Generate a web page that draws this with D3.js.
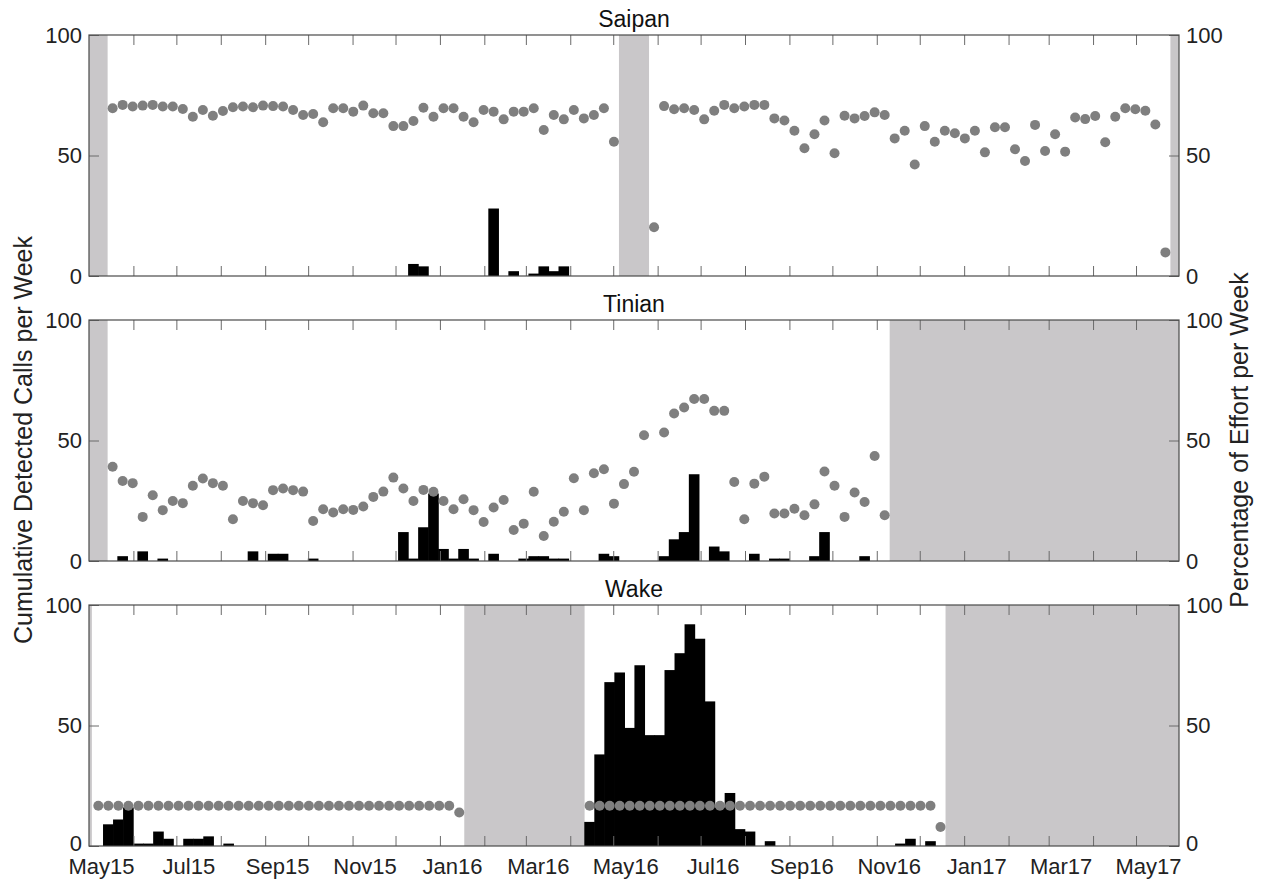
<!DOCTYPE html>
<html><head><meta charset="utf-8">
<script src="https://cdn.jsdelivr.net/npm/d3@7"></script>
<style>
body{margin:0;background:#fff;}
svg text{font-family:"Liberation Sans",Arial,Helvetica,sans-serif;}
</style>
</head><body>
<svg id="chart" width="1264" height="882"></svg>
<script>
// ---------------- DATA ----------------
const siteNames = ["Saipan", "Tinian", "Wake"];
const domainDates = ["2015-05-01", "2017-05-31"];
const yTickValues = [0, 50, 100];

// weekly series: first week start date, calls per week, % effort per week (null = no recording)
const saipanStart = "2015-05-14";
const saipanCalls = [
  0,0,0,0,0,0,0,0,0,0,
  0,0,0,0,0,0,0,0,0,0,
  0,0,0,0,0,0,0,0,0,0,
  5,4,0,0,0,0,0,0,28,0,
  2,0,1,4,2,4,0,0,0,0,
  0,null,null,null,0,0,0,0,0,0,
  0,0,0,0,0,0,0,0,0,0,
  0,0,0,0,0,0,0,0,0,0,
  0,0,0,0,0,0,0,0,0,0,
  0,0,0,0,0,0,0,0,0,0,
  0,0,0,0,0,0
];
const saipanEffort = [
  69.6,71.0,70.3,70.7,71.0,70.3,70.3,69.3,66.1,68.9,
  66.5,68.5,70.0,70.3,70.0,70.7,70.5,70.3,68.9,66.8,
  67.2,63.8,69.6,69.6,68.2,70.7,67.5,67.5,62.2,62.2,
  64.3,69.8,66.1,69.6,69.6,66.1,63.8,68.9,68.2,65.0,
  68.2,68.2,69.6,60.6,66.8,65.0,68.9,65.4,66.8,69.6,
  55.7,null,null,null,20.2,70.5,69.2,69.6,68.9,65.0,
  68.6,71.0,69.6,70.3,71.0,71.0,65.4,64.5,60.3,53.0,
  58.8,64.5,50.9,66.5,65.4,66.4,67.9,66.8,57.1,60.3,
  46.3,62.2,55.7,60.3,59.2,57.1,60.3,51.3,61.7,61.7,
  52.6,47.7,62.7,51.9,58.8,51.6,65.8,65.1,66.4,55.5,
  66.1,69.6,69.2,68.6,62.9,9.8
];
const saipanGaps = [["2015-05-01","2015-05-14"],["2016-05-05","2016-05-26"],["2017-05-25","2017-05-31"]];

const tinianStart = "2015-05-14";
const tinianCalls = [
  0,2,0,4,0,1,0,0,0,0,
  0,0,0,0,4,0,3,3,0,0,
  1,0,0,0,0,0,0,0,0,12,
  1,14,28,5,1,5,1,0,3,0,
  0,1,2,2,1,1,0,0,0,3,
  2,0,0,0,null,2,9,12,36,0,
  6,4,0,0,3,0,1,1,0,0,
  2,12,0,0,0,2,0,0
];
const tinianEffort = [
  39.1,33.2,32.3,18.3,27.3,21.1,24.9,24.0,31.2,34.2,
  32.3,31.2,17.3,24.9,24.0,23.1,29.4,30.1,29.4,28.8,
  16.6,21.5,20.1,21.5,21.2,22.6,26.6,28.8,34.6,30.1,
  24.9,29.5,28.7,24.9,21.5,25.6,21.1,16.2,22.2,25.3,
  12.9,15.5,28.7,10.4,16.3,20.4,34.3,21.1,36.4,38.1,
  23.8,31.9,37.0,52.2,null,53.3,61.2,63.7,67.2,67.2,
  62.3,62.3,32.8,17.3,32.1,35.0,19.7,19.7,21.7,19.0,
  23.5,37.1,31.2,18.3,28.4,24.5,43.6,19.0
];
const tinianGaps = [["2015-05-01","2015-05-14"],["2016-11-10","2017-05-31"]];

const wakeStart = "2015-05-04";
const wakeCalls = [
  0,9,11,16,1,1,6,3,0,3,
  3,4,0,1,0,0,0,0,0,0,
  0,0,0,0,0,0,0,0,0,0,
  0,0,0,0,0,0,0,null,null,null,
  null,null,null,null,null,null,null,null,null,10,
  38,68,72,49,75,46,46,73,80,92,
  86,60,16,22,7,6,0,2,0,0,
  0,0,0,0,0,0,0,0,0,0,
  1,3,0,2,0
];
const wakeEffort = [
  16.7,16.7,16.7,16.7,16.7,16.7,16.7,16.7,16.7,16.7,
  16.7,16.7,16.7,16.7,16.7,16.7,16.7,16.7,16.7,16.7,
  16.7,16.7,16.7,16.7,16.7,16.7,16.7,16.7,16.7,16.7,
  16.7,16.7,16.7,16.7,16.7,16.7,13.9,null,null,null,
  null,null,null,null,null,null,null,null,null,16.7,
  16.7,16.7,16.7,16.7,16.7,16.7,16.7,16.7,16.7,16.7,
  16.7,16.7,16.7,16.7,16.7,16.7,16.7,16.7,16.7,16.7,
  16.7,16.7,16.7,16.7,16.7,16.7,16.7,16.7,16.7,16.7,
  16.7,16.7,16.7,16.7,7.9
];
const wakeGaps = [["2015-05-01","2015-05-03"],["2016-01-18","2016-04-11"],["2016-12-19","2017-05-31"]];

const leftTitle = "Cumulative Detected Calls per Week";
const rightTitle = "Percentage of Effort per Week";

// ---------------- DRAW ----------------
const parse = d3.utcParse("%Y-%m-%d");
const panels = [
  {name: siteNames[0], start: saipanStart, calls: saipanCalls, effort: saipanEffort, gaps: saipanGaps},
  {name: siteNames[1], start: tinianStart, calls: tinianCalls, effort: tinianEffort, gaps: tinianGaps},
  {name: siteNames[2], start: wakeStart, calls: wakeCalls, effort: wakeEffort, gaps: wakeGaps}
];

const svg = d3.select("#chart");
svg.append("rect").attr("width",1264).attr("height",882).attr("fill","#fff");

const X0 = 89, X1 = 1179;
const x = d3.scaleUtc().domain(domainDates.map(parse)).range([X0, X1]);
const panelTops = [35, 320, 605];
const PH = 241;
const monthTicks = d3.utcMonth.range(parse("2015-06-01"), parse("2017-06-01"));
const labelMonths = d3.utcMonth.every(2).range(parse("2015-05-01"), parse("2017-06-01"));
const frameColor = "#4a4a4a", tickColor = "#6a6a6a", textColor = "#222";
const tickFont = 22, titleFont = 23, axisTitleFont = 25;

panels.forEach((p, i) => {
  const top = panelTops[i];
  const y = d3.scaleLinear().domain([0, 100]).range([top + PH, top]);
  const g = svg.append("g");

  // no-effort shading
  g.selectAll("rect.gap").data(p.gaps).join("rect").attr("class","gap")
    .attr("x", d => x(parse(d[0])))
    .attr("width", d => x(parse(d[1])) - x(parse(d[0])))
    .attr("y", top).attr("height", PH)
    .attr("fill", "#c9c7c9");

  const start = parse(p.start);
  const weeks = p.calls.map((v, k) => ({
    v, e: p.effort[k],
    t0: d3.utcDay.offset(start, 7 * k),
    t1: d3.utcDay.offset(start, 7 * k + 7)
  }));

  // bars (slight overlap so neighbouring bars have no seams)
  g.selectAll("rect.bar").data(weeks.filter(d => d.v != null && d.v > 0)).join("rect").attr("class","bar")
    .attr("x", d => x(d.t0) - 0.3)
    .attr("width", d => x(d.t1) - x(d.t0) + 0.6)
    .attr("y", d => y(d.v))
    .attr("height", d => y(0) - y(d.v))
    .attr("fill", "#000");

  // effort dots
  g.selectAll("circle").data(weeks.filter(d => d.e != null)).join("circle")
    .attr("cx", d => x(new Date((+d.t0 + +d.t1) / 2)))
    .attr("cy", d => y(d.e))
    .attr("r", 5)
    .attr("fill", "#7f7f7f");

  // month ticks bottom & top (inward)
  const bt = g.append("g").attr("transform", `translate(0,${top + PH})`)
    .call(d3.axisBottom(x).tickValues(monthTicks).tickSizeInner(-10).tickSizeOuter(0).tickFormat(""));
  const tt = g.append("g").attr("transform", `translate(0,${top})`)
    .call(d3.axisTop(x).tickValues(monthTicks).tickSizeInner(-10).tickSizeOuter(0).tickFormat(""));
  [bt, tt].forEach(a => { a.select(".domain").remove(); a.selectAll("line").attr("stroke", tickColor); });

  // y axes
  const la = g.append("g").attr("transform", `translate(${X0},0)`)
    .call(d3.axisLeft(y).tickValues(yTickValues).tickSizeInner(-10).tickSizeOuter(0).tickPadding(7));
  const ra = g.append("g").attr("transform", `translate(${X1},0)`)
    .call(d3.axisRight(y).tickValues(yTickValues).tickSizeInner(-10).tickSizeOuter(0).tickPadding(7));
  [la, ra].forEach(a => {
    a.select(".domain").remove();
    a.selectAll("line").attr("stroke", tickColor);
    a.selectAll("text").attr("font-size", tickFont).attr("fill", textColor)
      .attr("font-family", "Liberation Sans, Arial, sans-serif");
  });
  // lift the bottom "0" of the last panel a touch so it does not collide with the date labels
  if (i === panels.length - 1) {
    [la, ra].forEach(a => a.selectAll(".tick text").filter(d => d === 0).attr("dy", "0.2em"));
  }

  // frame
  g.append("rect").attr("x", X0).attr("y", top).attr("width", X1 - X0).attr("height", PH)
    .attr("fill", "none").attr("stroke", frameColor).attr("stroke-width", 1.2);

  // title
  g.append("text").attr("x", (X0 + X1) / 2).attr("y", top - 8)
    .attr("text-anchor", "middle").attr("font-size", titleFont).attr("fill", "#111").text(p.name);

  // x labels on last panel
  if (i === panels.length - 1) {
    const xl = g.append("g").attr("transform", `translate(0,${top + PH})`)
      .call(d3.axisBottom(x).tickValues(labelMonths).tickSize(0).tickPadding(12).tickFormat(d3.utcFormat("%b%y")));
    xl.select(".domain").remove();
    xl.selectAll("text").attr("font-size", tickFont).attr("fill", textColor).attr("dx", 12)
      .attr("font-family", "Liberation Sans, Arial, sans-serif");
  }
});

// axis titles
svg.append("text").attr("transform", "translate(32,440) rotate(-90)")
  .attr("text-anchor", "middle").attr("font-size", axisTitleFont).attr("fill", textColor).text(leftTitle);
svg.append("text").attr("transform", "translate(1248,440) rotate(-90)")
  .attr("text-anchor", "middle").attr("font-size", axisTitleFont).attr("fill", textColor).text(rightTitle);
</script>
</body></html>
